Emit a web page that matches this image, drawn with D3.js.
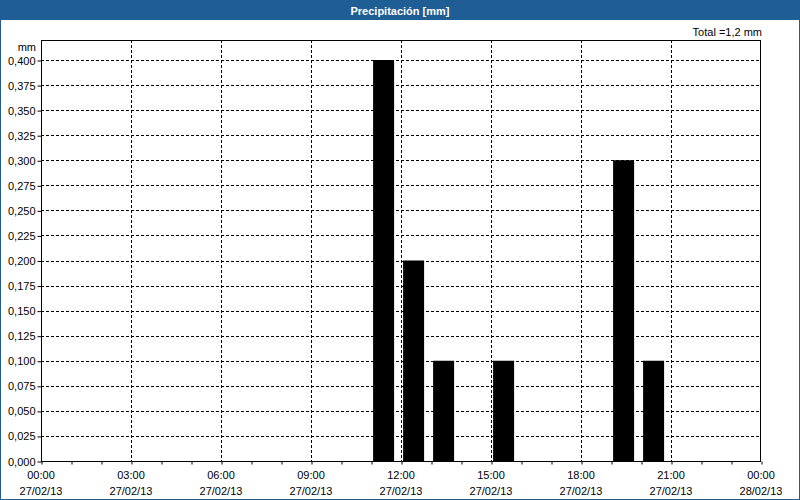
<!DOCTYPE html>
<html><head><meta charset="utf-8">
<script src="https://cdn.jsdelivr.net/npm/d3@7/dist/d3.min.js"></script>
<style>body{margin:0;background:#fff}svg{display:block}text{font-family:"Liberation Sans",Arial,sans-serif;font-size:11px}</style>
</head><body><svg id="c" width="800" height="500"></svg>
<script>
const title = "Precipitación [mm]";
const totalLabel = "Total =1,2 mm";
const unitLabel = "mm";
const hours = [11, 12, 13, 15, 19, 20];
const values = [0.4, 0.2, 0.1, 0.1, 0.3, 0.1];
const yTicks = [0,0.025,0.05,0.075,0.1,0.125,0.15,0.175,0.2,0.225,0.25,0.275,0.3,0.325,0.35,0.375,0.4];
const xTickHours = [0,3,6,9,12,15,18,21,24];
const xTimeLabels = ["00:00","03:00","06:00","09:00","12:00","15:00","18:00","21:00","00:00"];
const xDateLabels = ["27/02/13","27/02/13","27/02/13","27/02/13","27/02/13","27/02/13","27/02/13","27/02/13","28/02/13"];

const svg = d3.select("#c");
const blue = "#1f5e94";
const L = 41, R = 761, T = 40, B = 461;
const x = d3.scaleLinear().domain([0,24]).range([L,R]);
const y = d3.scaleLinear().domain([0,0.4]).range([B,60]);

// outer border
svg.append("rect").attr("x",0.5).attr("y",0.5).attr("width",799).attr("height",499).attr("fill","#fff").attr("stroke",blue);
svg.append("rect").attr("x",0).attr("y",0).attr("width",800).attr("height",20).attr("fill",blue);
svg.append("text").attr("x",400).attr("y",14.5).attr("text-anchor","middle").attr("fill","#fff")
  .attr("font-weight","bold").text(title);

svg.append("text").attr("x",R+1).attr("y",36).attr("text-anchor","end").text(totalLabel);
svg.append("text").attr("x",36).attr("y",51).attr("text-anchor","end").text(unitLabel);

// gridlines
svg.append("g").selectAll("line").data(yTicks.slice(1)).join("line")
  .attr("x1",L).attr("x2",R).attr("y1",d=>Math.round(y(d))+0.5).attr("y2",d=>Math.round(y(d))+0.5)
  .attr("stroke","#000").attr("stroke-dasharray","3,2");
svg.append("g").selectAll("line").data(xTickHours.slice(1,-1)).join("line")
  .attr("x1",d=>x(d)+0.5).attr("x2",d=>x(d)+0.5).attr("y1",T).attr("y2",B)
  .attr("stroke","#000").attr("stroke-dasharray","3,2");

// bars
svg.append("g").selectAll("rect").data(hours).join("rect")
  .attr("x",d=>x(d+0.07)).attr("width",d=>x(d+0.77)-x(d+0.07))
  .attr("y",(d,i)=>y(values[i])).attr("height",(d,i)=>B-y(values[i]))
  .attr("fill","#000");

// frame
svg.append("rect").attr("x",L+0.5).attr("y",T+0.5).attr("width",R-L-1).attr("height",B-T)
  .attr("fill","none").attr("stroke","#000");

// y axis
const ya = d3.axisLeft(y).tickValues(yTicks).tickSize(4).tickPadding(2)
  .tickFormat(d=>d3.format(".3f")(d).replace(".",","));
const gy = svg.append("g").attr("transform",`translate(${L+0.5},0.5)`).call(ya);
gy.select(".domain").remove();
gy.selectAll("text").attr("font-size",11).attr("font-family","Liberation Sans").attr("fill","#000");

// x axis with hourly minor ticks
const xa = d3.axisBottom(x).tickValues(d3.range(0,25)).tickSize(3).tickFormat("");
const gx = svg.append("g").attr("transform",`translate(0.5,${B+0.5})`).call(xa);
gx.select(".domain").remove();
const lab = svg.append("g");
xTickHours.forEach((h,i)=>{
  lab.append("text").attr("x",x(h)).attr("y",479).attr("text-anchor","middle").text(xTimeLabels[i]);
  lab.append("text").attr("x",x(h)).attr("y",495).attr("text-anchor","middle").text(xDateLabels[i]);
});
</script></body></html>
